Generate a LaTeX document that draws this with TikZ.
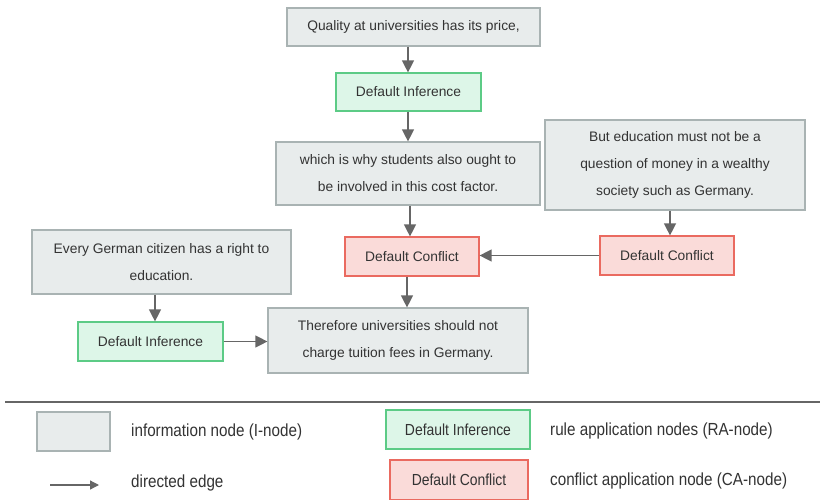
\documentclass[tikz,border=0pt]{standalone}
\usepackage{fontspec}
\setmainfont{Liberation Sans}
\newfontfamily\narrowfont[FakeStretch=0.87]{Liberation Sans}
\usetikzlibrary{arrows.meta}
\definecolor{ifill}{HTML}{E8ECEC}
\definecolor{idraw}{HTML}{A9B3B3}
\definecolor{gfill}{HTML}{DDF6E8}
\definecolor{gdraw}{HTML}{5CCB86}
\definecolor{rfill}{HTML}{FADBD9}
\definecolor{rdraw}{HTML}{EA6A60}
\definecolor{txt}{HTML}{333333}
\definecolor{edge}{HTML}{666666}
\tikzset{
  base/.style={rectangle, line width=1.2pt, inner sep=0pt, align=center, text=txt,
    font=\fontsize{13.8}{27}\selectfont},
  inode/.style={base, fill=ifill, draw=idraw},
  ranode/.style={base, fill=gfill, draw=gdraw},
  canode/.style={base, fill=rfill, draw=rdraw},
  conn/.style={draw=edge, line width=1.3pt, -{Triangle[length=12pt,width=12pt]}},
  legtext/.style={anchor=west, inner sep=0pt, text=txt, font=\narrowfont\fontsize{17.5}{19}\selectfont},
  legbox/.style={font=\narrowfont\fontsize{16}{18}\selectfont},
}
\begin{document}
\begin{tikzpicture}[x=1pt,y=-1pt]
\useasboundingbox (0,0) rectangle (820,499);
\node[inode, minimum width=253pt, minimum height=38pt] (q) at (413.5,27) {Quality at universities has its price,};
\node[ranode, minimum width=145pt, minimum height=38pt] (di1) at (408.5,92) {Default Inference};
\node[inode, minimum width=264pt, minimum height=63pt] (w) at (408,173.5) {which is why students also ought to\\be involved in this cost factor.};
\node[inode, minimum width=260pt, minimum height=90pt] (b) at (675,165) {But education must not be a\\question of money in a wealthy\\society such as Germany.};
\node[canode, minimum width=134pt, minimum height=39pt] (dc) at (412,256.5) {Default Conflict};
\node[canode, minimum width=134pt, minimum height=39pt] (dcr) at (667,255.5) {Default Conflict};
\node[inode, minimum width=259pt, minimum height=64pt] (e) at (161.5,262) {Every German citizen has a right to\\education.};
\node[ranode, minimum width=145pt, minimum height=39pt] (di2) at (150.5,341.5) {Default Inference};
\node[inode, minimum width=260pt, minimum height=65pt] (t) at (398,340.5) {Therefore universities should not\\charge tuition fees in Germany.};

\coordinate (x408) at (408,0);
\coordinate (x410) at (410,0);
\coordinate (x670) at (670,0);
\coordinate (x407) at (407,0);
\coordinate (x155) at (155,0);
\draw[conn] (q.south -| x408) -- (di1.north -| x408);
\draw[conn] (di1.south -| x408) -- (w.north -| x408);
\draw[conn] (w.south -| x410) -- (dc.north -| x410);
\draw[conn] (b.south -| x670) -- (dcr.north -| x670);
\draw[conn] (dcr.west) -- (dc.east |- dcr.west);
\draw[conn] (dc.south -| x407) -- (t.north -| x407);
\draw[conn] (e.south -| x155) -- (di2.north -| x155);
\draw[conn] (di2.east) -- (t.west |- di2.east);

% legend
\coordinate (sl) at (5,402);
\coordinate (sr) at (820,402);
\draw[edge, line width=1.3pt] (sl) -- (sr);
\node[inode, minimum width=73pt, minimum height=39pt] (li) at (73.5,431.5) {};
\node[legtext] (lit) at (131,432) {information node (I-node)};
\node[ranode, legbox, minimum width=144pt, minimum height=39pt] (lr) at (458,429.5) {Default Inference};
\node[legtext] (lrt) at (550,431) {rule application nodes (RA-node)};
\coordinate (la) at (50,485);
\coordinate (lb) at (99,485);
\draw[draw=edge, line width=1.3pt, -{Triangle[length=9pt,width=9pt]}] (la) -- (lb);
\node[legtext] (lat) at (131,483) {directed edge};
\node[canode, legbox, minimum width=138pt, minimum height=40pt] (lc) at (459,480) {Default Conflict};
\node[legtext] (lct) at (550,481) {conflict application node (CA-node)};
\end{tikzpicture}
\end{document}
